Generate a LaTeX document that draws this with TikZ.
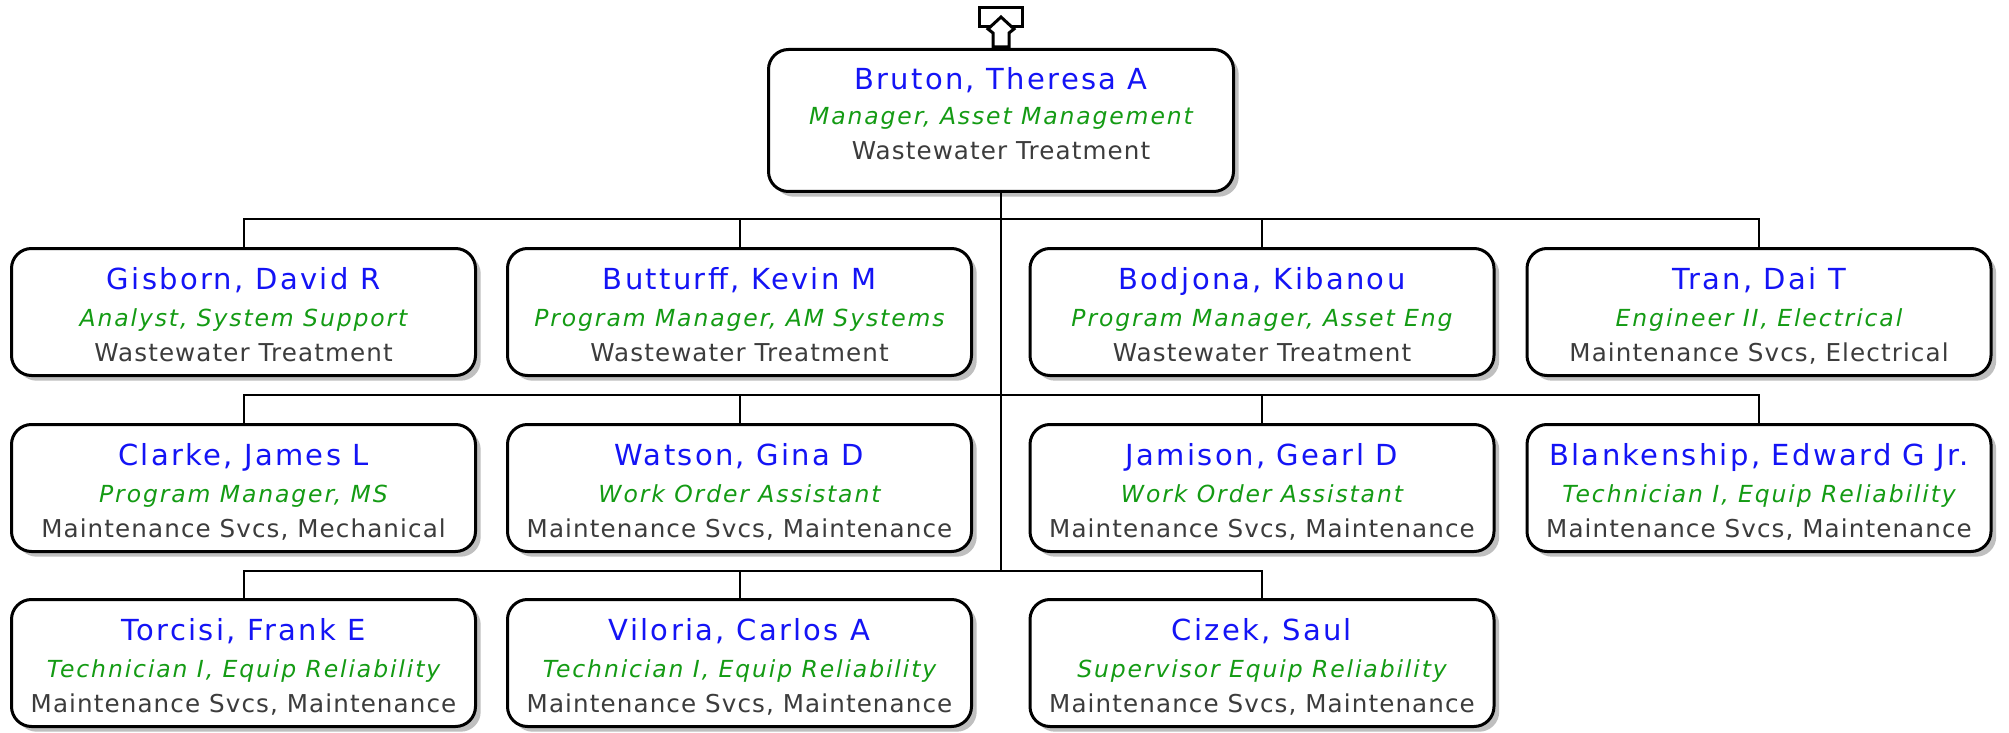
\documentclass[tikz,border=0pt]{standalone}
\usepackage{fontspec}
\setmainfont{DejaVu Sans}
\newfontfamily\orgnamefont[LetterSpace=8]{DejaVu Sans}
\newfontfamily\orgtitlefont[LetterSpace=8]{DejaVu Sans}
\newfontfamily\orgdeptfont[LetterSpace=4.5]{DejaVu Sans}
\usetikzlibrary{shadows}
\definecolor{nameblue}{RGB}{20,20,245}
\definecolor{titlegreen}{RGB}{20,155,20}
\definecolor{deptgray}{RGB}{60,60,60}
\tikzset{
  box/.style={draw=black, line width=1.5pt, fill=white, rounded corners=10pt,
    minimum width=232pt, minimum height=63.5pt, inner sep=0pt,
    drop shadow={shadow xshift=2.6pt, shadow yshift=-2.6pt, fill=black!25, opacity=1}},
  nm/.style={anchor=base, inner sep=0pt, text=nameblue, font=\orgnamefont\fontsize{14.5}{17}\selectfont},
  tt/.style={anchor=base, inner sep=0pt, text=titlegreen, font=\orgtitlefont\itshape\fontsize{11.75}{14}\selectfont},
  dp/.style={anchor=base, inner sep=0pt, text=deptgray, font=\orgdeptfont\fontsize{12.3}{14}\selectfont},
  conn/.style={draw=black, line width=1pt},
  icon/.style={draw=black, line width=1.5pt, fill=white, line join=miter}
}
\newcommand\orgperson[6]{%
  \node[box, anchor=north] (#1) at (#2,#3) {};
  \node[nm] (#1-n) at ([yshift=-21pt]#1.north) {#4};
  \node[tt] (#1-t) at ([yshift=-39.5pt]#1.north) {#5};
  \node[dp] (#1-d) at ([yshift=-57pt]#1.north) {#6};
}
\begin{document}
\begin{tikzpicture}[x=0.5pt, y=-0.5pt]
\fill[white] (0,0) rectangle (2009,733);
\useasboundingbox (0,0) rectangle (2009,733);
% bus coordinates
\coordinate (b1) at (1001,219);
\coordinate (b2) at (1001,395);
\coordinate (b3) at (1001,571);
% top box
\node[box, anchor=north, minimum width=232.5pt, minimum height=71pt] (top) at (1001,48) {};
\node[nm] (top-n) at ([yshift=-21pt]top.north) {Bruton, Theresa A};
\node[tt] (top-t) at ([yshift=-38.5pt]top.north) {Manager, Asset Management};
\node[dp] (top-d) at ([yshift=-56pt]top.north) {Wastewater Treatment};
% icon
\draw[icon] (979,8) rectangle (1022,27);
\draw[icon] (1001,17) -- (1014,29) -- (1009,33) -- (1009,47) -- (993,47) -- (993,33) -- (988,29) -- cycle;
% connectors
\draw[conn] (top.south) -- (b3);
% row 1
\orgperson{gis}{243.5}{247}{Gisborn, David R}{Analyst, System Support}{Wastewater Treatment}
\orgperson{but}{739.5}{247}{Butturff, Kevin M}{Program Manager, AM Systems}{Wastewater Treatment}
\orgperson{bod}{1262}{247}{Bodjona, Kibanou}{Program Manager, Asset Eng}{Wastewater Treatment}
\orgperson{tra}{1759}{247}{Tran, Dai T}{Engineer II, Electrical}{Maintenance Svcs, Electrical}
% row 2
\orgperson{cla}{243.5}{423}{Clarke, James L}{Program Manager, MS}{Maintenance Svcs, Mechanical}
\orgperson{wat}{739.5}{423}{Watson, Gina D}{Work Order Assistant}{Maintenance Svcs, Maintenance}
\orgperson{jam}{1262}{423}{Jamison, Gearl D}{Work Order Assistant}{Maintenance Svcs, Maintenance}
\orgperson{bla}{1759}{423}{Blankenship, Edward G Jr.}{Technician I, Equip Reliability}{Maintenance Svcs, Maintenance}
% row 3
\orgperson{tor}{243.5}{598}{Torcisi, Frank E}{Technician I, Equip Reliability}{Maintenance Svcs, Maintenance}
\orgperson{vil}{739.5}{598}{Viloria, Carlos A}{Technician I, Equip Reliability}{Maintenance Svcs, Maintenance}
\orgperson{ciz}{1262}{598}{Cizek, Saul}{Supervisor Equip Reliability}{Maintenance Svcs, Maintenance}
% child connectors
\draw[conn] (gis.north) |- (b1);
\draw[conn] (but.north) |- (b1);
\draw[conn] (bod.north) |- (b1);
\draw[conn] (tra.north) |- (b1);
\draw[conn] (cla.north) |- (b2);
\draw[conn] (wat.north) |- (b2);
\draw[conn] (jam.north) |- (b2);
\draw[conn] (bla.north) |- (b2);
\draw[conn] (tor.north) |- (b3);
\draw[conn] (vil.north) |- (b3);
\draw[conn] (ciz.north) |- (b3);
\end{tikzpicture}
\end{document}
